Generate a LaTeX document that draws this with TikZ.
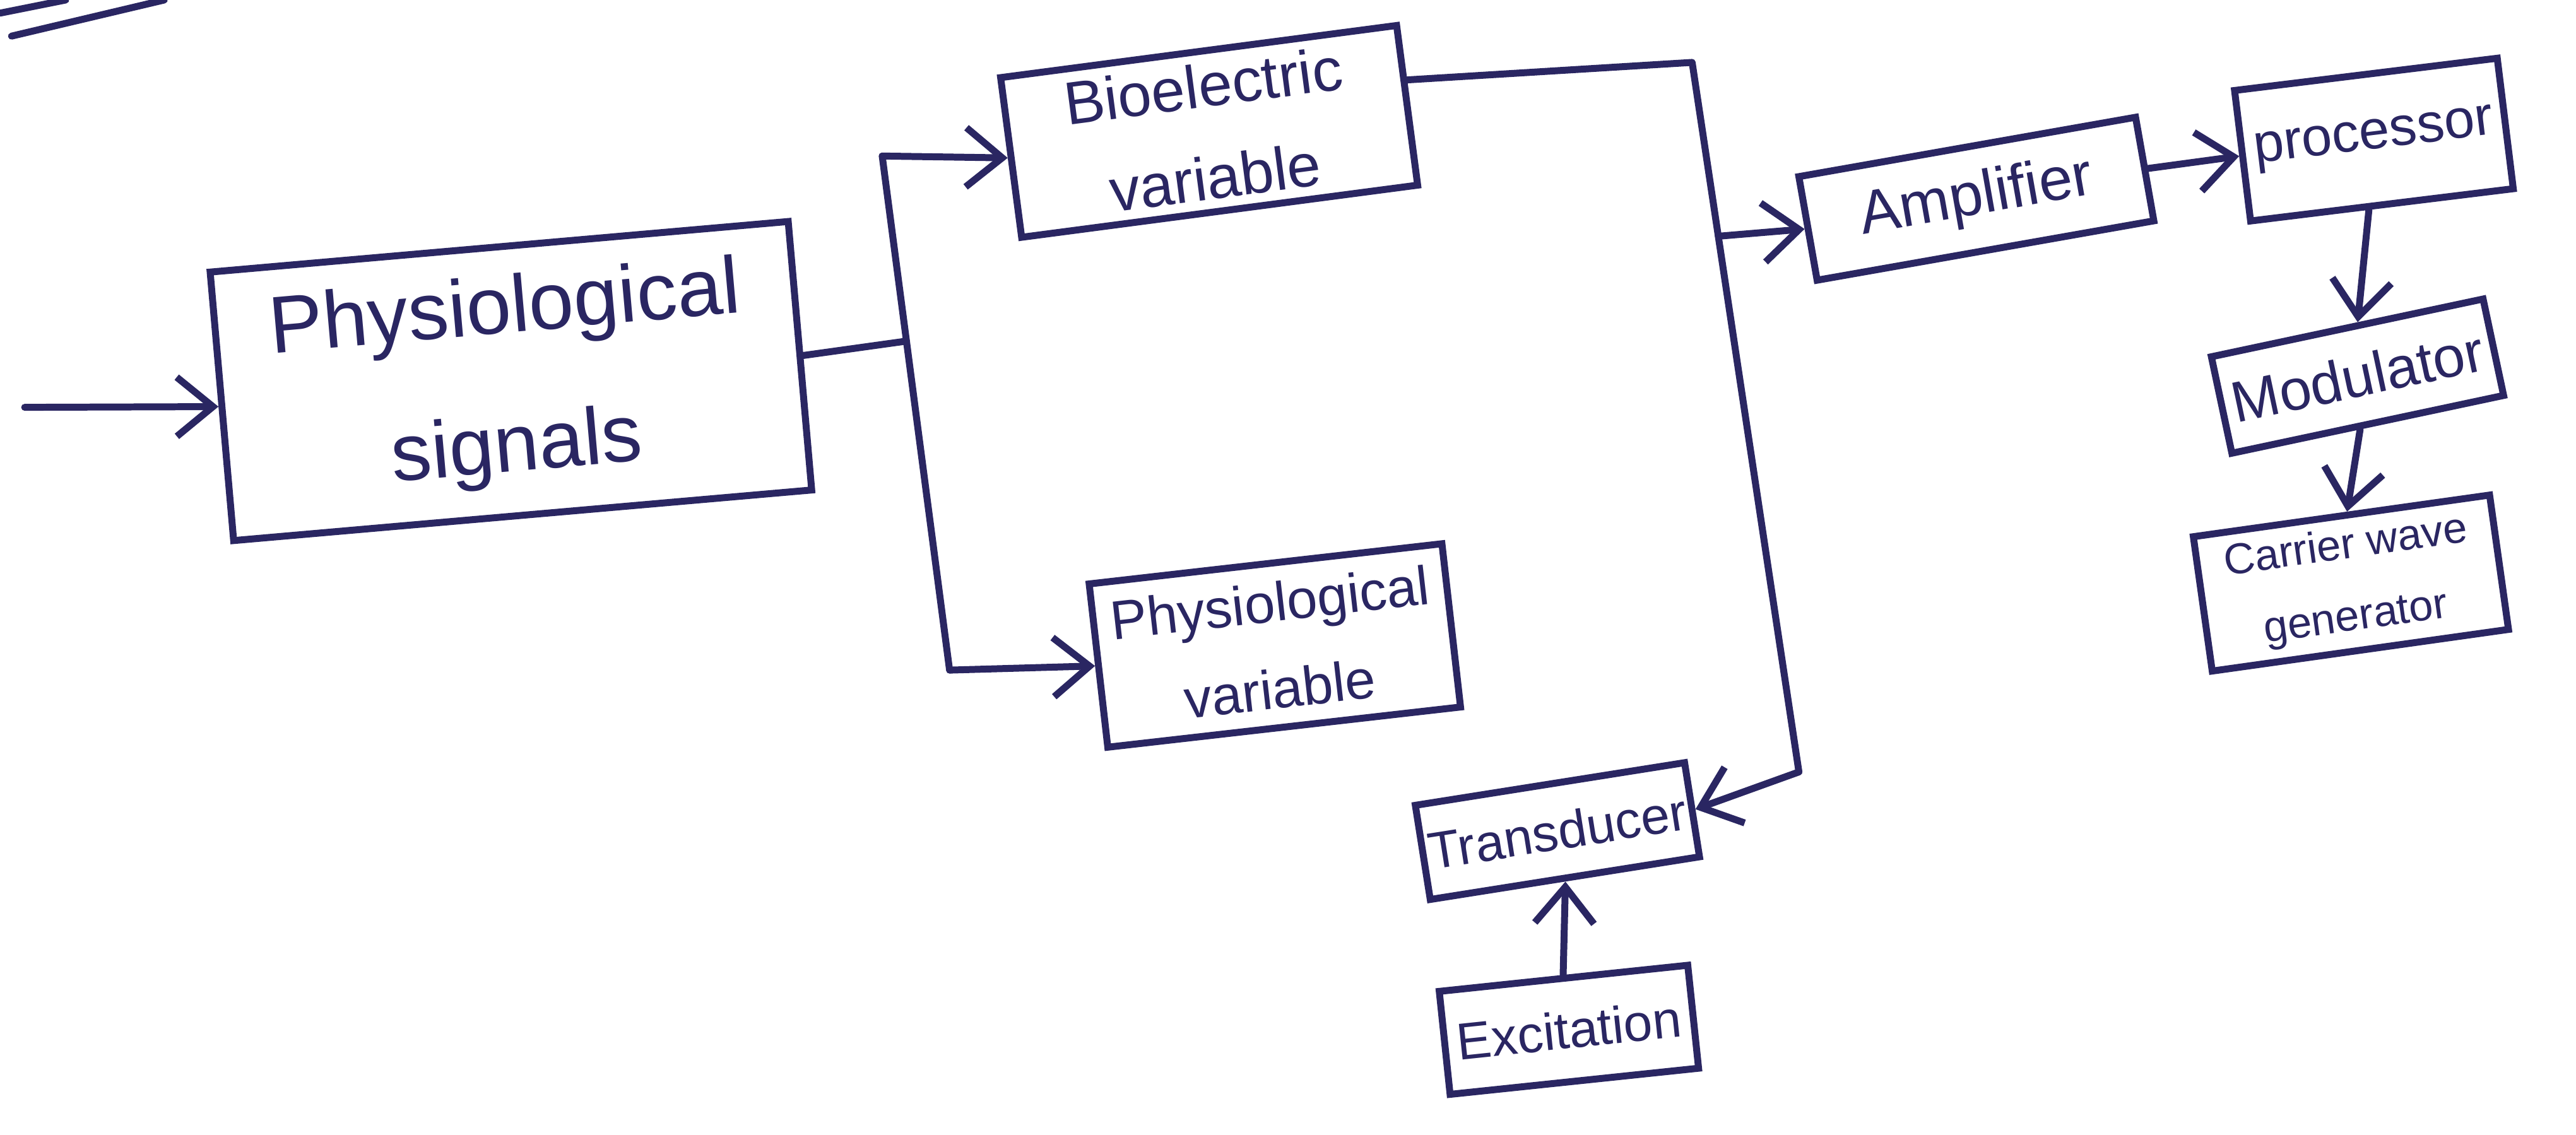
\documentclass[tikz,border=0pt]{standalone}
\usepackage{fontspec}
\setmainfont{Liberation Sans}
\usetikzlibrary{arrows.meta,calc}
\definecolor{ink}{RGB}{42,38,98}
\begin{document}
\begin{tikzpicture}[x=0.01cm,y=-0.01cm,
  box/.style={draw=ink, line width=1.2pt, text=ink, align=center, inner sep=1pt},
  wire/.style={draw=ink, line width=1.2pt, line cap=round, line join=round},
  arr/.style={wire, -{Straight Barb[length=2.2mm,width=3.6mm,line width=1.2pt]}}]
\fill[white] (0,0) rectangle (1568,691);
\useasboundingbox (0,0) rectangle (1568,691);

% stray pen strokes at the top-left corner
\draw[wire] (0,8) -- (40,0);
\draw[wire] (7,22) -- (100,0);

% blocks
\node[box, rotate=5, minimum width=3.53cm, minimum height=1.64cm, font=\fontsize{14}{24}\selectfont] (ps) at (311,232) {Physiological\\signals};
\node[box, rotate=7.5, minimum width=2.43cm, minimum height=0.98cm, font=\fontsize{10.5}{16}\selectfont] (bv) at (736,80) {Bioelectric\\variable};
\node[box, rotate=6.5, minimum width=2.16cm, minimum height=1.0cm, font=\fontsize{9.5}{15}\selectfont] (pv) at (776,393) {Physiological\\variable};
\node[box, rotate=9, minimum width=1.59cm, minimum height=0.58cm, font=\fontsize{9}{11}\selectfont] (tr) at (948,506) {Transducer};
\node[box, rotate=6, minimum width=1.52cm, minimum height=0.63cm, font=\fontsize{9}{11}\selectfont] (exc) at (955,627) {Excitation};
\node[box, rotate=10, minimum width=2.08cm, minimum height=0.64cm, font=\fontsize{10.5}{12}\selectfont] (amp) at (1203,121) {Amplifier};
\node[box, rotate=7, minimum width=1.61cm, minimum height=0.80cm, font=\fontsize{9.5}{12}\selectfont] (proc) at (1445,85) {processor};
\node[box, rotate=12, minimum width=1.69cm, minimum height=0.60cm, font=\fontsize{10}{12}\selectfont] (mod) at (1435,229) {Modulator};
\node[box, rotate=8, minimum width=1.82cm, minimum height=0.55cm, inner sep=2pt, font=\fontsize{7.5}{12.5}\selectfont] (cwg) at (1431,355) {Carrier wave\\generator};

% input
\coordinate (in0) at (15,248);
\draw[arr] (in0) -- (ps.west);

% split to the two variables
\coordinate (jt) at (537,95);
\coordinate (jb) at (578,408);
\draw[wire] (ps.east) -- ($(jt)!0.36!(jb)$);
\draw[wire] (jt) -- (jb);
\draw[arr] (jt) -- (bv.west);
\draw[arr] (jb) -- (pv.west);

% bioelectric variable to amplifier and transducer
\coordinate (c1) at (1030,38);
\coordinate (c2) at (1095,470);
\draw[wire] ($(bv.north east)!0.35!(bv.south east)$) -- (c1) -- (c2);
\draw[arr] (c2) -- (tr.east);
\draw[arr] ($(c1)!0.245!(c2)$) -- (amp.west);

% excitation to transducer
\draw[arr] (exc.north) -- (tr.south);

% right-hand chain
\draw[arr] (amp.east) -- (proc.west);
\draw[arr] ($(proc.south west)!0.45!(proc.south east)$) -- ($(mod.north west)!0.54!(mod.north east)$);
\draw[arr] ($(mod.south west)!0.47!(mod.south east)$) -- ($(cwg.north west)!0.52!(cwg.north east)$);
\end{tikzpicture}
\end{document}
